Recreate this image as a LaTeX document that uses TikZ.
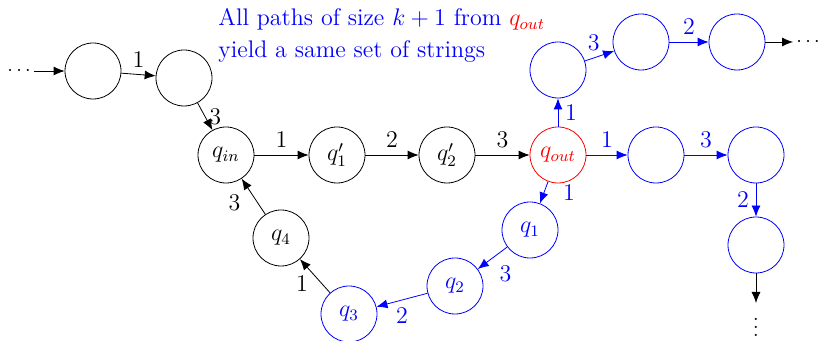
\documentclass[tikz,border=0pt]{standalone}
\usetikzlibrary{arrows.meta,positioning}
\begin{document}
\begin{tikzpicture}[x=0.5pt, y=-0.5pt, font=\large,
    state/.style={circle, draw, minimum size=28pt, inner sep=0pt},
    bstate/.style={state, draw=blue, text=blue},
    arrow/.style={-{Latex[length=5.5pt,width=4.5pt]}},
    barrow/.style={arrow, draw=blue, text=blue},
    dots/.style={font=\normalsize, inner sep=1.5pt}
]
    \useasboundingbox (0,0) rectangle (819,341);

    % left part
    \node[dots, anchor=west] (ldots) at (4,71) {$\cdots$};
    \node[state] (n1) at (93,71) {};
    \node[state] (n2) at (184,78) {};
    \node[state] (qin) at (226,155) {$q_{in}$};
    \node[state] (q1p) at (337,155) {$q'_1$};
    \node[state] (q2p) at (447,155) {$q'_2$};
    \node[state, draw=red, text=red] (qout) at (558,155) {$q_{out}$};
    \node[state] (q4) at (281,238) {$q_4$};

    % paths leaving q_out
    \node[bstate] (u1) at (558,70) {};
    \node[bstate] (u2) at (641,42) {};
    \node[bstate] (u3) at (737,42) {};
    \node[dots, anchor=west] (rdots) at (793,42) {$\cdots$};
    \node[bstate] (r1) at (656,155) {};
    \node[bstate] (r2) at (756,155) {};
    \node[bstate] (r3) at (756,245) {};
    \node[dots, anchor=north] (vdots) at (756,303) {$\vdots$};
    \node[bstate] (q1) at (530,230) {$q_1$};
    \node[bstate] (q2) at (455,286) {$q_2$};
    \node[bstate] (q3) at (349,314) {$q_3$};

    \node[anchor=north west, inner sep=0pt, align=left, text=blue] (note) at (218,8)
        {All paths of size $k+1$ from {\color{red}$q_{out}$}\\[2pt] yield a same set of strings};

    \draw[arrow] (ldots) -- (n1);
    \draw[arrow] (n1) -- node[above] {1} (n2);
    \draw[arrow] (n2) -- node[right, inner sep=2pt] {3} (qin);
    \draw[arrow] (qin) -- node[above] {1} (q1p);
    \draw[arrow] (q1p) -- node[above] {2} (q2p);
    \draw[arrow] (q2p) -- node[above] {3} (qout);
    \draw[arrow] (q3) -- node[left, yshift=-4pt] {1} (q4);
    \draw[arrow] (q4) -- node[left, xshift=-3pt, yshift=-3pt] {3} (qin);

    \draw[barrow] (qout) -- node[right] {1} (u1);
    \draw[barrow] (u1) -- node[pos=0.3, above] {3} (u2);
    \draw[barrow] (u2) -- node[above] {2} (u3);
    \draw[arrow] (u3) -- (rdots);
    \draw[barrow] (qout) -- node[above] {1} (r1);
    \draw[barrow] (r1) -- node[above] {3} (r2);
    \draw[barrow] (r2) -- node[left] {2} (r3);
    \draw[arrow] (r3) -- (vdots);
    \draw[barrow] (qout) -- node[right=6pt] {1} (q1);
    \draw[barrow] (q1) -- node[below right] {3} (q2);
    \draw[barrow] (q2) -- node[below] {2} (q3);
\end{tikzpicture}
\end{document}
